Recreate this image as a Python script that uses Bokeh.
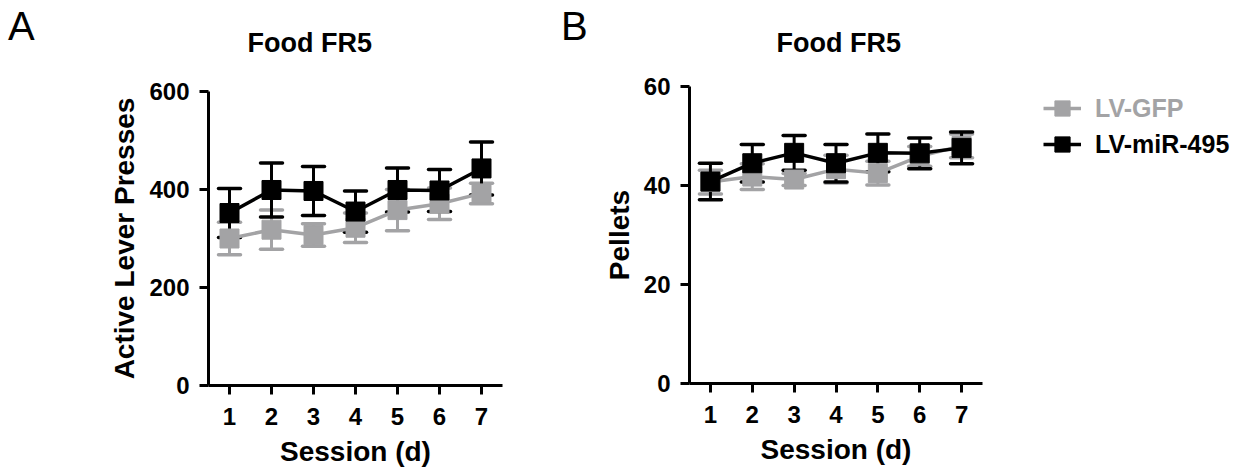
from bokeh.plotting import figure
from bokeh.models import (FixedTicker, Whisker, TeeHead, ColumnDataSource, Legend,
                          LegendItem, Range1d, Title, Div)
from bokeh.layouts import row, column
from bokeh.embed import file_html
from bokeh.resources import INLINE

# ---------------- data ----------------
sessions = [1, 2, 3, 4, 5, 6, 7]
x_tick_labels = ["1", "2", "3", "4", "5", "6", "7"]
series_names = ["LV-GFP", "LV-miR-495"]
panel_letters = ["A", "B"]
panel_titles = ["Food FR5", "Food FR5"]

# Panel A: Active lever presses (mean, SEM)
a_gfp_mean = [300, 318, 307, 322, 358, 371, 392]
a_gfp_sem = [33, 40, 23, 30, 42, 32, 21]
a_mir_mean = [352, 399, 397, 355, 399, 398, 443]
a_mir_sem = [50, 55, 50, 42, 45, 43, 54]
a_yticks = [0, 200, 400, 600]

# Panel B: Pellets (mean, SEM)
b_gfp_mean = [40.7, 41.8, 41.2, 43.3, 42.5, 45.9, 48.0]
b_gfp_sem = [2.4, 2.6, 1.2, 2.8, 2.4, 2.0, 2.4]
b_mir_mean = [40.8, 44.5, 46.6, 44.5, 46.6, 46.5, 47.6]
b_mir_sem = [3.7, 3.8, 3.5, 3.8, 3.8, 3.1, 3.2]
b_yticks = [0, 20, 40, 60]

GRAY = "#a3a3a5"
BLACK = "#000000"
SERIES_COLORS = [GRAY, BLACK]
FONT = "Liberation Sans"
H = 470


def add_series(p, means, sems, color):
    src = ColumnDataSource(dict(
        x=sessions, y=means,
        upper=[m + s for m, s in zip(means, sems)],
        lower=[m - s for m, s in zip(means, sems)],
    ))
    ln = p.line("x", "y", source=src, line_color=color, line_width=3.5)
    head_kw = dict(size=22, line_color=color, line_width=3.5, line_cap="round")
    w = Whisker(base="x", upper="upper", lower="lower", source=src,
                line_color=color, line_width=3,
                upper_head=TeeHead(**head_kw), lower_head=TeeHead(**head_kw))
    p.add_layout(w)
    sc = p.scatter("x", "y", source=src, marker="square", size=19,
                   fill_color=color, line_color=color, line_width=1)
    return ln, sc


def make_panel(width, bl, br, bt, bb, ymax, yticks, ylabel, title,
               gfp_m, gfp_s, mir_m, mir_s, title_offset, spacer):
    p = figure(width=width, height=H, output_backend="svg",
               toolbar_location=None, x_range=Range1d(0.5, 7.5),
               y_range=Range1d(0, ymax), min_border_left=bl,
               min_border_right=br, min_border_top=bt, min_border_bottom=bb)
    # spacer (closest to the frame) then the real title above it
    p.add_layout(Title(text=" ", text_font_size="10px", standoff=spacer), "above")
    p.add_layout(Title(text=title, align="left", offset=title_offset,
                       text_font=FONT, text_font_size="27px",
                       text_font_style="bold", text_color="black",
                       standoff=10), "above")
    p.grid.visible = False
    p.outline_line_color = None
    p.background_fill_color = "white"
    p.border_fill_color = "white"

    p.xaxis.ticker = FixedTicker(ticks=sessions)
    p.xaxis.major_label_overrides = {s: t for s, t in zip(sessions, x_tick_labels)}
    p.yaxis.ticker = FixedTicker(ticks=yticks)
    p.xaxis.axis_label = "Session (d)"
    p.yaxis.axis_label = ylabel
    for ax in (p.xaxis, p.yaxis):
        ax.axis_line_width = 3
        ax.axis_line_color = "black"
        ax.major_tick_line_width = 3
        ax.major_tick_line_color = "black"
        ax.major_tick_out = 9
        ax.major_tick_in = 0
        ax.minor_tick_line_color = None
        ax.major_label_text_font = FONT
        ax.major_label_text_font_style = "bold"
        ax.major_label_text_font_size = "24px"
        ax.major_label_text_color = "black"
        ax.axis_label_text_font = FONT
        ax.axis_label_text_font_style = "bold"
        ax.axis_label_text_font_size = "28px"
        ax.axis_label_text_color = "black"
    p.xaxis.major_label_standoff = 13
    p.yaxis.major_label_standoff = 10
    p.xaxis.axis_label_standoff = 8
    p.yaxis.axis_label_standoff = 6

    add_series(p, gfp_m, gfp_s, GRAY)
    add_series(p, mir_m, mir_s, BLACK)
    return p


def letter_div(letter, width, pad_left):
    html = ('<div style="font-family:\'Liberation Sans\',Arial,sans-serif;'
            'font-size:40px;line-height:40px;color:black;margin:0;'
            f'padding:6px 0 0 {pad_left}px;">{letter}</div>')
    return Div(text=html, width=width, height=H, margin=0)


divA = letter_div(panel_letters[0], 40, 8)
pA = make_panel(520, 168, 58, 91, 85, 600, a_yticks, "Active Lever Presses",
                panel_titles[0], a_gfp_mean, a_gfp_sem, a_mir_mean, a_mir_sem,
                39, 16)
divB = letter_div(panel_letters[1], 40, 1)
pB = make_panel(418, 87, 36, 86, 87, 60, b_yticks, "Pellets",
                panel_titles[1], b_gfp_mean, b_gfp_sem, b_mir_mean, b_mir_sem,
                87, 11)

# legend panel: key glyphs styled like the series (their one point lies
# outside the visible range), one legend per series so each label keeps its colour
pL = figure(width=237, height=H, output_backend="svg", toolbar_location=None,
            x_range=Range1d(0, 1), y_range=Range1d(0, 1),
            x_axis_type=None, y_axis_type=None,
            min_border_left=0, min_border_right=0, min_border_top=0,
            min_border_bottom=0)
pL.grid.visible = False
pL.outline_line_color = None
for name, color, loc in [(series_names[0], SERIES_COLORS[0], (25, 343)),
                         (series_names[1], SERIES_COLORS[1], (25, 307))]:
    key_src = ColumnDataSource(dict(x=[-10, -9], y=[-10, -10]))
    ln = pL.line("x", "y", source=key_src, line_color=color, line_width=3.5)
    sc = pL.scatter("x", "y", source=key_src, marker="square", size=19,
                    fill_color=color, line_color=color)
    leg = Legend(items=[LegendItem(label=name, renderers=[ln, sc])],
                 location=loc, glyph_width=38, glyph_height=38,
                 label_height=36, label_standoff=14, padding=4, spacing=0,
                 margin=0, border_line_color=None, background_fill_alpha=0,
                 label_text_font=FONT, label_text_font_style="bold",
                 label_text_font_size="25px", label_text_color=color)
    pL.add_layout(leg)

layout = row(divA, column(pA), divB, column(pB), column(pL))
open("out.html", "w").write(file_html(layout, INLINE))
